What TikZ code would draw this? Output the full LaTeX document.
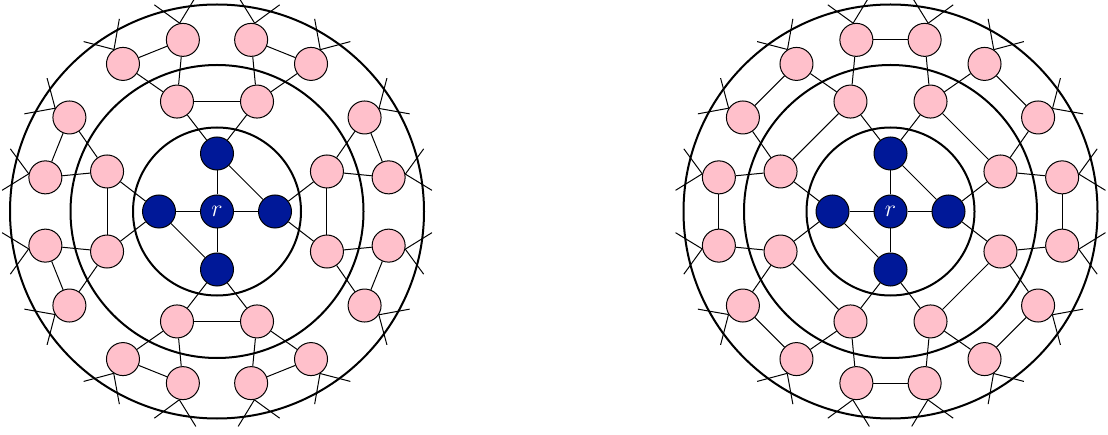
\documentclass[tikz,border=0pt]{standalone}
\usetikzlibrary{backgrounds}
\definecolor{nodeblue}{RGB}{0,24,152}
\definecolor{nodepink}{RGB}{255,192,203}
\begin{document}
\begin{tikzpicture}[x=0.5pt,y=0.5pt,
  pinknode/.style={circle,draw=black,fill=nodepink,line width=0.5pt,minimum size=16.5pt,inner sep=0pt},
  bluenode/.style={circle,draw=black,fill=nodeblue,line width=0.5pt,minimum size=16.5pt,inner sep=0pt,text=white,font=\large},
  edge/.style={line width=0.5pt},
  ring/.style={line width=1pt}]
\useasboundingbox (0,0) rectangle (1108,434);
\foreach \P/\cx in {L/217,R/890.5}{
  \begin{scope}[shift={(\cx,222.5)}]
    \draw[ring] (0,0) circle (84) (0,0) circle (146.5) (0,0) circle (207);
    \node[bluenode] (\P r) at (0,0) {$r$};
    \foreach \i in {0,...,3} \node[bluenode] (\P b\i) at (90*\i:58) {};
    \foreach \i/\a in {0/20,1/70,2/110,3/160,4/200,5/250,6/290,7/340}
      \node[pinknode] (\P m\i) at (\a:117) {};
    \foreach \j/\a in {0/11.25,1/32.5,2/57.5,3/78.75,4/101.25,5/122.5,6/147.5,7/168.75,
                       8/191.25,9/212.5,10/237.5,11/258.75,12/281.25,13/302.5,14/327.5,15/348.75}{
      \node[pinknode] (\P o\j) at (\a:175) {};
      \coordinate (\P sa\j) at ({\a+5.625}:216);
      \coordinate (\P sb\j) at ({\a-5.625}:216);
      \begin{pgfonlayer}{background}
        \draw[edge] (\P o\j.\a) -- (\P sa\j);
        \draw[edge] (\P o\j.\a) -- (\P sb\j);
      \end{pgfonlayer}
    }
    \begin{pgfonlayer}{background}
      \foreach \i in {0,...,3} \draw[edge] (\P r) -- (\P b\i);
      \draw[edge] (\P b1) -- (\P b0);
      \draw[edge] (\P b2) -- (\P b3);
      \foreach \b/\m in {0/0,0/7,1/1,1/2,2/3,2/4,3/5,3/6}
        \draw[edge] (\P b\b) -- (\P m\m);
      \foreach \k in {0,...,7}{
        \pgfmathtruncatemacro\jj{2*\k}
        \pgfmathtruncatemacro\jk{2*\k+1}
        \draw[edge] (\P m\k) -- (\P o\jj);
        \draw[edge] (\P m\k) -- (\P o\jk);
      }
    \end{pgfonlayer}
  \end{scope}
}
\begin{pgfonlayer}{background}
  % left diagram
  \foreach \u/\v in {1/2,3/4,7/0,5/6} \draw[edge] (Lm\u) -- (Lm\v);
  \foreach \k in {0,...,7}{
    \pgfmathtruncatemacro\jj{2*\k}
    \pgfmathtruncatemacro\jk{2*\k+1}
    \draw[edge] (Lo\jj) -- (Lo\jk);
  }
  % right diagram
  \foreach \u/\v in {0/1,2/3,4/5,6/7} \draw[edge] (Rm\u) -- (Rm\v);
  \foreach \k in {0,...,7}{
    \pgfmathtruncatemacro\jj{2*\k+1}
    \pgfmathtruncatemacro\jk{mod(2*\k+2,16)}
    \draw[edge] (Ro\jj) -- (Ro\jk);
  }
\end{pgfonlayer}
\end{tikzpicture}
\end{document}
